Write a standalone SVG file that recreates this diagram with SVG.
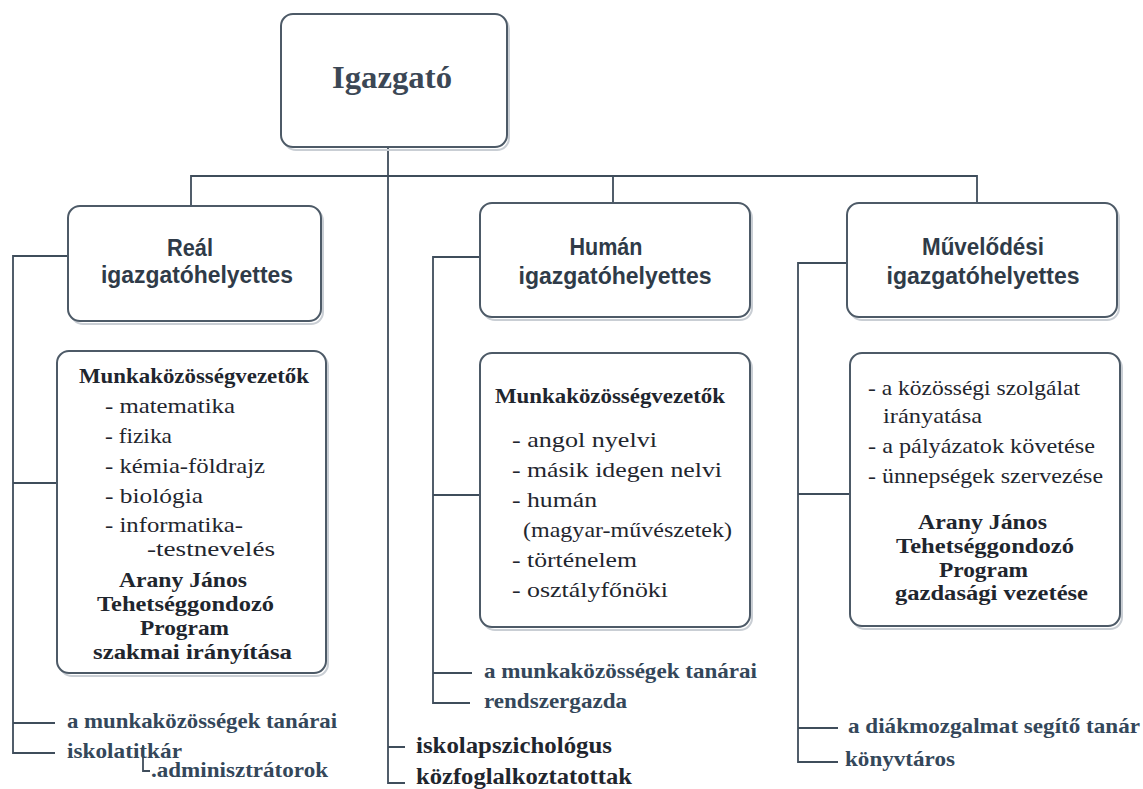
<svg xmlns="http://www.w3.org/2000/svg" width="1143" height="789" viewBox="0 0 1143 789">
<style>
.box{fill:#fff;stroke:#4d5a67;stroke-width:2}
.shadow{fill:none;stroke:#c9ced4;stroke-width:2}
.con{fill:none;stroke:#3f4d5b;stroke-width:1.8}
.hd{font-family:"Liberation Sans",Arial,sans-serif;font-weight:bold;font-size:23px;fill:#2f3b48;text-anchor:middle}
.top{font-family:"Liberation Serif","Times New Roman",serif;font-weight:bold;font-size:32px;fill:#3b4755;text-anchor:middle}
.it{font-family:"Liberation Serif","Times New Roman",serif;font-size:22px;fill:#1f262e}
.bd{font-family:"Liberation Serif","Times New Roman",serif;font-weight:bold;font-size:22px;fill:#1f262e}
.bs{font-family:"Liberation Serif","Times New Roman",serif;font-weight:bold;font-size:20px;fill:#1f262e}
.mk{font-family:"Liberation Serif","Times New Roman",serif;font-weight:bold;font-size:21px;fill:#1f262e}
.lb{font-family:"Liberation Serif","Times New Roman",serif;font-weight:bold;font-size:22px;fill:#34475a}
.lb2{font-family:"Liberation Serif","Times New Roman",serif;font-weight:bold;font-size:24px;fill:#1f262e}
</style>
<rect width="1143" height="789" fill="#fff"/>
<g id="connectors">
<path class="con" d="M388,147 V783 H405 M388,747 H405"/>
<path class="con" d="M191,206 V176 H977 V203 M613,176 V203"/>
<path class="con" d="M68,256 H13 V753 H55 M13,483 H57 M13,723 H55"/>
<path class="con" d="M143,745 V771 H150" stroke-width="1.4"/>
<path class="con" d="M480,257 H433 V703 H470 M433,495 H480 M433,673 H472"/>
<path class="con" d="M847,263 H798 V762 H838 M798,494 H850 M798,728 H838"/>
</g>
<g id="igazgato">
<rect class="shadow" x="284" y="17" width="225" height="133" rx="12"/>
<rect class="box" x="281" y="14" width="226" height="133" rx="12"/>
<text class="top" x="392" y="88" textLength="120" lengthAdjust="spacingAndGlyphs">Igazgató</text>
</g>
<g id="real">
<rect class="shadow" x="71" y="209" width="252" height="115" rx="12"/>
<rect class="box" x="68" y="206" width="253" height="115" rx="12"/>
<text class="hd" x="190" y="256" textLength="46" lengthAdjust="spacingAndGlyphs">Reál</text>
<text class="hd" x="197" y="283" textLength="192" lengthAdjust="spacingAndGlyphs">igazgatóhelyettes</text>
</g>
<g id="human">
<rect class="shadow" x="483" y="206" width="269" height="114" rx="12"/>
<rect class="box" x="480" y="203" width="270" height="114" rx="12"/>
<text class="hd" x="606" y="255" textLength="73" lengthAdjust="spacingAndGlyphs">Humán</text>
<text class="hd" x="615" y="284" textLength="193" lengthAdjust="spacingAndGlyphs">igazgatóhelyettes</text>
</g>
<g id="muvelodesi">
<rect class="shadow" x="850" y="206" width="269" height="114" rx="12"/>
<rect class="box" x="847" y="203" width="270" height="114" rx="12"/>
<text class="hd" x="983" y="255" textLength="122" lengthAdjust="spacingAndGlyphs">Művelődési</text>
<text class="hd" x="983" y="284" textLength="193" lengthAdjust="spacingAndGlyphs">igazgatóhelyettes</text>
</g>
<g id="real-munkakozosseg">
<rect class="shadow" x="60" y="354" width="268" height="322" rx="12"/>
<rect class="box" x="57" y="351" width="269" height="322" rx="12"/>
<text class="mk" x="79" y="383" textLength="230" lengthAdjust="spacingAndGlyphs">Munkaközösségvezetők</text>
<text class="it" x="105" y="413" textLength="130" lengthAdjust="spacingAndGlyphs">- matematika</text>
<text class="it" x="105" y="443" textLength="67" lengthAdjust="spacingAndGlyphs">- fizika</text>
<text class="it" x="105" y="473" textLength="160" lengthAdjust="spacingAndGlyphs">- kémia-földrajz</text>
<text class="it" x="105" y="503" textLength="98" lengthAdjust="spacingAndGlyphs">- biológia</text>
<text class="it" x="105" y="532" textLength="138" lengthAdjust="spacingAndGlyphs">- informatika-</text>
<text class="it" x="147" y="556" textLength="128" lengthAdjust="spacingAndGlyphs">-testnevelés</text>
<text class="bd" x="119" y="587" textLength="128" lengthAdjust="spacingAndGlyphs">Arany János</text>
<text class="bd" x="97" y="611" textLength="177" lengthAdjust="spacingAndGlyphs">Tehetséggondozó</text>
<text class="bd" x="140" y="635" textLength="89" lengthAdjust="spacingAndGlyphs">Program</text>
<text class="bd" x="93" y="659" textLength="199" lengthAdjust="spacingAndGlyphs">szakmai irányítása</text>
</g>
<g id="human-munkakozosseg">
<rect class="shadow" x="483" y="356" width="269" height="274" rx="12"/>
<rect class="box" x="480" y="353" width="270" height="274" rx="12"/>
<text class="mk" x="495" y="403" textLength="230" lengthAdjust="spacingAndGlyphs">Munkaközösségvezetők</text>
<text class="it" x="512" y="447" textLength="145" lengthAdjust="spacingAndGlyphs">- angol nyelvi</text>
<text class="it" x="512" y="477" textLength="210" lengthAdjust="spacingAndGlyphs">- másik idegen nelvi</text>
<text class="it" x="512" y="507" textLength="85" lengthAdjust="spacingAndGlyphs">- humán</text>
<text class="it" x="523" y="537" textLength="209" lengthAdjust="spacingAndGlyphs">(magyar-művészetek)</text>
<text class="it" x="512" y="567" textLength="125" lengthAdjust="spacingAndGlyphs">- történelem</text>
<text class="it" x="512" y="597" textLength="156" lengthAdjust="spacingAndGlyphs">- osztályfőnöki</text>
</g>
<g id="muvelodesi-feladatok">
<rect class="shadow" x="853" y="356" width="269" height="273" rx="12"/>
<rect class="box" x="850" y="353" width="270" height="273" rx="12"/>
<text class="it" x="868" y="395" textLength="212" lengthAdjust="spacingAndGlyphs">- a közösségi szolgálat</text>
<text class="it" x="883" y="423" textLength="99" lengthAdjust="spacingAndGlyphs">irányatása</text>
<text class="it" x="868" y="453" textLength="227" lengthAdjust="spacingAndGlyphs">- a pályázatok követése</text>
<text class="it" x="868" y="483" textLength="235" lengthAdjust="spacingAndGlyphs">- ünnepségek szervezése</text>
<text class="bs" x="918" y="529" textLength="129" lengthAdjust="spacingAndGlyphs">Arany János</text>
<text class="bs" x="896" y="553" textLength="178" lengthAdjust="spacingAndGlyphs">Tehetséggondozó</text>
<text class="bs" x="939" y="577" textLength="89" lengthAdjust="spacingAndGlyphs">Program</text>
<text class="bs" x="895" y="600" textLength="193" lengthAdjust="spacingAndGlyphs">gazdasági vezetése</text>
</g>
<g id="real-tanarai">
<text class="lb" x="67" y="728" textLength="270" lengthAdjust="spacingAndGlyphs">a munkaközösségek tanárai</text>
</g>
<g id="iskolatitkar">
<text class="lb" x="67" y="758" textLength="115" lengthAdjust="spacingAndGlyphs">iskolatitkár</text>
</g>
<g id="adminisztratorok">
<text class="lb" x="151" y="777" textLength="177" lengthAdjust="spacingAndGlyphs">.adminisztrátorok</text>
</g>
<g id="iskolapszichologus">
<text class="lb2" x="416" y="753" textLength="196" lengthAdjust="spacingAndGlyphs">iskolapszichológus</text>
</g>
<g id="kozfoglalkoztatottak">
<text class="lb2" x="416" y="784" textLength="216" lengthAdjust="spacingAndGlyphs">közfoglalkoztatottak</text>
</g>
<g id="human-tanarai">
<text class="lb" x="484" y="678" textLength="273" lengthAdjust="spacingAndGlyphs">a munkaközösségek tanárai</text>
</g>
<g id="rendszergazda">
<text class="lb" x="484" y="708" textLength="143" lengthAdjust="spacingAndGlyphs">rendszergazda</text>
</g>
<g id="diakmozgalom">
<text class="lb" x="848" y="733" textLength="292" lengthAdjust="spacingAndGlyphs">a diákmozgalmat segítő tanár</text>
</g>
<g id="konyvtaros">
<text class="lb" x="845" y="766" textLength="110" lengthAdjust="spacingAndGlyphs">könyvtáros</text>
</g>
</svg>
